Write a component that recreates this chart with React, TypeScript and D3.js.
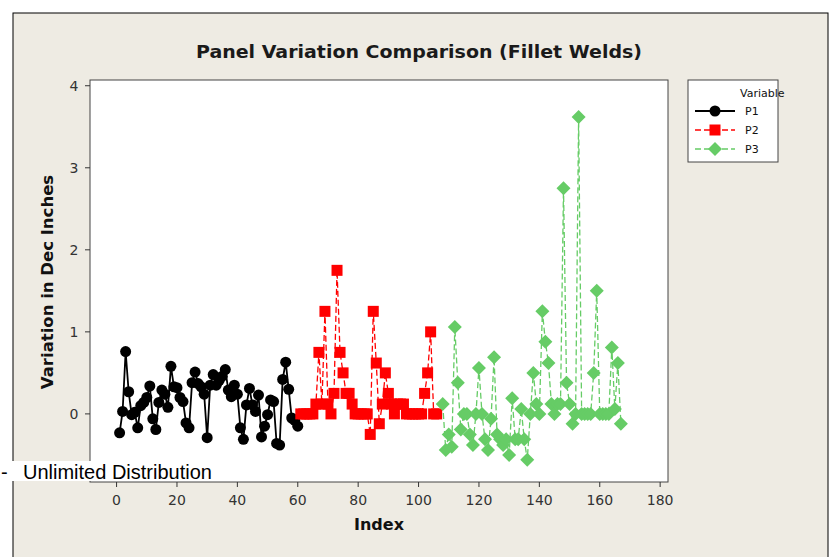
import React from "react";
import * as d3 from "d3";

const title = "Panel Variation Comparison (Fillet Welds)";
const xLabel = "Index";
const yLabel = "Variation in Dec Inches";
const xTicks = [0, 20, 40, 60, 80, 100, 120, 140, 160, 180];
const yTicks = [0, 1, 2, 3, 4];
const seriesNames = ["P1", "P2", "P3"];

const p1Start = 1;
const p1 = [
  -0.23, 0.03, 0.76, 0.27, -0.01, 0.02, -0.17, 0.1, 0.14, 0.2,
  0.34, -0.06, -0.19, 0.14, 0.29, 0.24, 0.08, 0.58, 0.33, 0.32,
  0.2, 0.15, -0.11, -0.17, 0.38, 0.51, 0.37, 0.33, 0.24, -0.29,
  0.35, 0.48, 0.35, 0.41, 0.46, 0.54, 0.29, 0.21, 0.35, 0.24,
  -0.17, -0.31, 0.11, 0.31, 0.11, 0.03, 0.23, -0.28, -0.15, -0.01,
  0.17, 0.15, -0.36, -0.38, 0.42, 0.63, 0.3, -0.05, -0.08, -0.15,
];

const p2Start = 61;
const p2 = [
  0, 0, 0, 0, 0, 0.12, 0.75, 0.12, 1.25, 0.12,
  0, 0.25, 1.75, 0.75, 0.5, 0.25, 0.25, 0.12, 0, 0,
  0, 0, 0, -0.25, 1.25, 0.62, -0.12, 0.12, 0.5, 0.25,
  0.12, 0, 0.12, 0.12, 0.12, 0, 0, 0, 0, 0,
  0, 0.25, 0.5, 1.0, 0, 0,
];

const p3Start = 108;
const p3 = [
  0.12, -0.44, -0.25, -0.4, 1.06, 0.38, -0.19, 0.0, 0.0, -0.25,
  -0.38, 0.0, 0.56, 0.0, -0.31, -0.44, -0.06, 0.69, -0.25, -0.31,
  -0.38, -0.31, -0.5, 0.19, -0.31, -0.31, 0.06, -0.31, -0.56, 0.0,
  0.5, 0.12, 0.0, 1.25, 0.88, 0.62, 0.12, 0.0, 0.12, 0.12,
  2.75, 0.38, 0.12, -0.12, 0.0, 3.62, 0.0, 0.0, 0.0, 0.0,
  0.5, 1.5, 0.0, 0.0, 0.0, 0.0, 0.81, 0.06, 0.62, -0.12,
];

const colors = ["#000000", "#ff0000", "#66cc66"];
const dashes = ["none", "6,3", "6,3"];
const widths = [1.8, 1.3, 1.3];

const W = 835;
const H = 557;
const plot = { left: 90, right: 668, top: 80, bottom: 482 };

export default function App() {
  const x = d3.scaleLinear().domain([-8.8, 182.6]).range([plot.left, plot.right]);
  const y = d3.scaleLinear().domain([-0.83, 4.07]).range([plot.bottom, plot.top]);

  const series = [
    { data: p1, start: p1Start },
    { data: p2, start: p2Start },
    { data: p3, start: p3Start },
  ].map((s) => s.data.map((v, i) => [s.start + i, v] as [number, number]));

  const line = d3
    .line<[number, number]>()
    .x((d) => x(d[0]))
    .y((d) => y(d[1]));

  const font = "DejaVu Sans, Verdana, sans-serif";

  const marker = (k: number, cx: number, cy: number, key: string) => {
    if (k === 0) return <circle key={key} cx={cx} cy={cy} r={5.5} fill={colors[0]} />;
    if (k === 1)
      return <rect key={key} x={cx - 5.5} y={cy - 5.5} width={11} height={11} fill={colors[1]} />;
    const r = 7;
    return (
      <path
        key={key}
        d={`M${cx},${cy - r}L${cx + r},${cy}L${cx},${cy + r}L${cx - r},${cy}Z`}
        fill={colors[2]}
      />
    );
  };

  return (
    <svg
      width={W}
      height={H}
      style={{ position: "absolute", left: 0, top: 0 }}
      xmlns="http://www.w3.org/2000/svg"
    >
      <rect x={0} y={0} width={W} height={H} fill="#ffffff" />
      <rect x={13} y={13} width={815} height={H} fill="#eeebe3" stroke="#000" strokeWidth={1} />
      <text
        x={196}
        y={58}
        textLength={446}
        lengthAdjust="spacingAndGlyphs"
        fontFamily={font}
        fontSize={18.5}
        fontWeight="bold"
        fill="#1a1a1a"
      >
        {title}
      </text>
      <rect
        x={plot.left}
        y={plot.top}
        width={plot.right - plot.left}
        height={plot.bottom - plot.top}
        fill="#ffffff"
        stroke="#444"
        strokeWidth={1}
      />
      {xTicks.map((t) => (
        <g key={"xt" + t}>
          <line x1={x(t)} x2={x(t)} y1={plot.bottom} y2={plot.bottom + 5} stroke="#333" />
          <text x={x(t)} y={505} textAnchor="middle" fontFamily={font} fontSize={14} fill="#333">
            {t}
          </text>
        </g>
      ))}
      {yTicks.map((t) => (
        <g key={"yt" + t}>
          <line x1={plot.left - 5} x2={plot.left} y1={y(t)} y2={y(t)} stroke="#333" />
          <text x={74} y={y(t) + 5} textAnchor="middle" fontFamily={font} fontSize={14} fill="#333">
            {t}
          </text>
        </g>
      ))}
      <text x={379} y={530} textAnchor="middle" fontFamily={font} fontSize={16} fontWeight="bold" fill="#111">
        {xLabel}
      </text>
      <text
        transform={`translate(53,282) rotate(-90)`}
        textAnchor="middle"
        fontFamily={font}
        fontSize={16.5}
        fontWeight="bold"
        fill="#111"
      >
        {yLabel}
      </text>
      {series.map((s, k) => (
        <path
          key={"l" + k}
          d={line(s) || ""}
          fill="none"
          stroke={colors[k]}
          strokeWidth={widths[k]}
          strokeDasharray={dashes[k]}
        />
      ))}
      {series.map((s, k) => s.map((d, i) => marker(k, x(d[0]), y(d[1]), `m${k}-${i}`)))}
      <rect x={688} y={80} width={90} height={82} fill="#ffffff" stroke="#444" />
      <text x={740} y={97} fontFamily={font} fontSize={11} fill="#111">
        Variable
      </text>
      {seriesNames.map((n, k) => {
        const ly = 111 + k * 19;
        return (
          <g key={"lg" + k}>
            <line x1={695} x2={735} y1={ly} y2={ly} stroke={colors[k]} strokeWidth={widths[k]} strokeDasharray={dashes[k]} />
            {marker(k, 715, ly, "lm" + k)}
            <text x={745} y={ly + 4} fontFamily={font} fontSize={11} fill="#111">
              {n}
            </text>
          </g>
        );
      })}
      <rect x={0} y={461} width={216} height={20} fill="#ffffff" />
      <text x={1} y={479} fontFamily="Liberation Sans, Arial, sans-serif" fontSize={20} fill="#000">
        -
      </text>
      <text x={23} y={479} fontFamily="Liberation Sans, Arial, sans-serif" fontSize={20} fill="#000">
        Unlimited Distribution
      </text>
    </svg>
  );
}
